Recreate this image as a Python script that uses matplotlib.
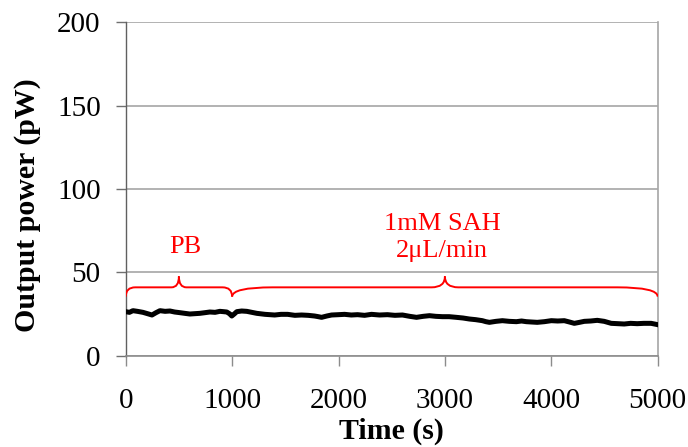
import matplotlib
matplotlib.use("Agg")
import matplotlib.pyplot as plt
from matplotlib.path import Path
from matplotlib.patches import PathPatch

plt.rcParams['font.family'] = ['Liberation Serif', 'DejaVu Serif']

# Output power trace (time in s, power in pW)
time_s = [0, 35, 68, 110, 162, 205, 247, 285, 322, 370, 416, 460, 509, 555,
          603, 650, 697, 745, 791, 840, 885, 920, 950, 975, 997, 1020, 1044,
          1090, 1138, 1185, 1232, 1310, 1400, 1460, 1522, 1590, 1653, 1715,
          1775, 1810, 1841, 1890, 1935, 2000, 2057, 2120, 2179, 2245, 2310,
          2385, 2460, 2530, 2601, 2670, 2733, 2795, 2855, 2915, 2977, 3040,
          3108, 3170, 3230, 3290, 3352, 3385, 3418, 3480, 3540, 3605, 3672,
          3720, 3765, 3815, 3868, 3935, 4000, 4060, 4122, 4170, 4216, 4265,
          4310, 4370, 4432, 4497, 4530, 4563, 4625, 4685, 4745, 4807, 4870,
          4938, 4985, 5000]
power_pw = [26.4, 26.0, 27.0, 26.6, 26.0, 25.2, 24.4, 25.8, 27.0, 26.6, 26.8,
            26.2, 25.8, 25.4, 25.0, 25.2, 25.4, 25.8, 26.2, 26.0, 26.6, 26.4,
            26.2, 25.2, 23.8, 25.0, 26.4, 26.8, 26.6, 26.0, 25.4, 24.8, 24.4,
            24.8, 24.8, 24.2, 24.4, 24.2, 23.8, 23.4, 23.0, 23.8, 24.4, 24.6,
            24.8, 24.4, 24.6, 24.2, 24.8, 24.4, 24.6, 24.2, 24.4, 23.6, 23.0,
            23.6, 24.0, 23.6, 23.4, 23.4, 23.0, 22.6, 22.0, 21.6, 21.0, 20.4,
            20.0, 20.6, 21.0, 20.6, 20.4, 20.8, 20.4, 20.2, 20.0, 20.4, 21.0,
            20.8, 21.0, 20.2, 19.4, 20.0, 20.6, 20.8, 21.2, 20.6, 20.0, 19.4,
            19.2, 19.0, 19.4, 19.2, 19.4, 19.4, 18.8, 18.6]

# Annotated periods: (start, end, text)
periods = [(0, 1000, "PB"), (1000, 5000, "1mM SAH\n2\u03bcL/min")]

x_ticks = [0, 1000, 2000, 3000, 4000, 5000]
y_ticks = [0, 50, 100, 150, 200]

fig = plt.figure(figsize=(6.88, 4.47), dpi=100)
ax = fig.add_axes([0.1827, 0.2043, 0.7733, 0.7458])

ax.set_xlim(0, 5000)
ax.set_ylim(0, 200)
ax.set_xticks(x_ticks)
ax.set_yticks(y_ticks)

grid_color = '#a6a6a6'
ax.yaxis.grid(True, color=grid_color, linewidth=1.2, zorder=0)
ax.set_axisbelow(True)
ax.spines['top'].set_visible(False)
ax.spines['right'].set_color(grid_color)
ax.spines['right'].set_linewidth(1.2)
ax.spines['bottom'].set_color('#8c8c8c')
ax.spines['bottom'].set_linewidth(1.2)
ax.spines['left'].set_color('#606060')
ax.spines['left'].set_linewidth(1.0)

ax.tick_params(axis='x', direction='out', length=7, width=1.0, color='#8c8c8c',
               pad=16, labelsize=21)
ax.tick_params(axis='y', direction='out', length=7, width=1.0, color='#707070',
               pad=11, labelsize=21)

ax.plot(time_s, power_pw, color='black', linewidth=3.6, solid_joinstyle='round',
        zorder=3)


def brace(ax, x0, x1, y_end, y_mid, y_tip, end_w, tip_w, **kw):
    xm = (x0 + x1) / 2.0
    verts = [(x0, y_end), (x0, y_mid), (x0 + end_w, y_mid),
             (xm - tip_w, y_mid),
             (xm, y_mid), (xm, y_tip),
             (xm, y_mid), (xm + tip_w, y_mid),
             (x1 - end_w, y_mid),
             (x1, y_mid), (x1, y_end)]
    codes = [Path.MOVETO, Path.CURVE3, Path.CURVE3,
             Path.LINETO,
             Path.CURVE3, Path.CURVE3,
             Path.CURVE3, Path.CURVE3,
             Path.LINETO,
             Path.CURVE3, Path.CURVE3]
    ax.add_patch(PathPatch(Path(verts, codes), fill=False, **kw))


red = '#ff0000'
brace_shape = [(90, 70), (380, 125)]
for (t0, t1, label), (ew, tw) in zip(periods, brace_shape):
    brace(ax, t0, t1, 35.4, 41.0, 47.5, ew, tw, edgecolor=red, linewidth=1.4,
          zorder=4)

ax.text(560, 65.0, periods[0][2], color=red, fontsize=19, ha='center',
        va='center')
ax.text(2975, 71.0, periods[1][2], color=red, fontsize=19, ha='center',
        va='center', linespacing=1.3)

ax.set_xlabel('Time (s)', fontsize=21.5, fontweight='bold')
ax.set_ylabel('Output power (pW)', fontsize=21.5, fontweight='bold')
ax.xaxis.set_label_coords(0.5, -0.186)
ax.yaxis.set_label_coords(-0.159, 0.452)

fig.savefig('out.png', dpi=100)
